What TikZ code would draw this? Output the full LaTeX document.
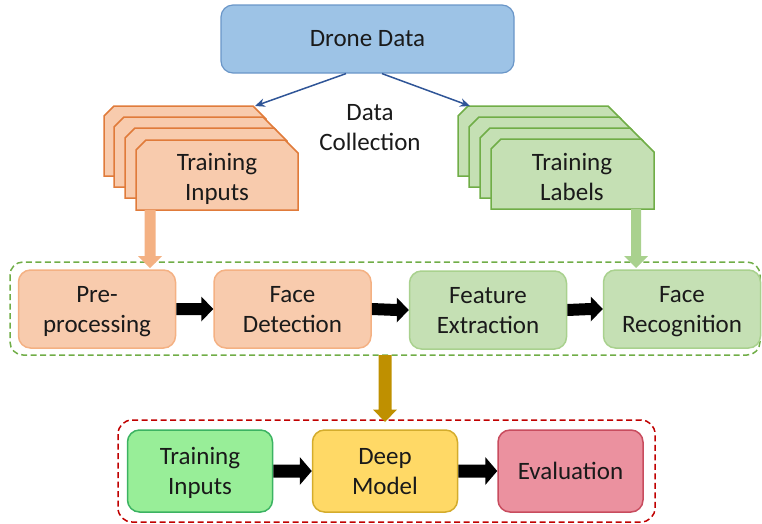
\documentclass[tikz,border=0pt]{standalone}
\usepackage{fontspec}
\setmainfont{Carlito}
\usetikzlibrary{calc,arrows.meta}
\definecolor{txt}{HTML}{1A1A1A}
\definecolor{orfill}{HTML}{F8CBAD}
\definecolor{ordark}{HTML}{E07B3A}
\definecolor{orlight}{HTML}{F4B183}
\definecolor{grfill}{HTML}{C5E0B4}
\definecolor{grdark}{HTML}{70AD47}
\definecolor{grlight}{HTML}{A9D18E}
\definecolor{blfill}{HTML}{9DC3E6}
\definecolor{blborder}{HTML}{6A96C8}
\definecolor{blarrow}{HTML}{2F5597}
\definecolor{gold}{HTML}{BF9000}
\definecolor{redline}{HTML}{C00000}
\definecolor{tifill}{HTML}{98EE98}
\definecolor{tiborder}{HTML}{3CB362}
\definecolor{dmfill}{HTML}{FFD966}
\definecolor{dmborder}{HTML}{D4AC2C}
\definecolor{evfill}{HTML}{EB919F}
\definecolor{evborder}{HTML}{C84C5E}
\newcommand\mycard[4]{%
  \draw[#4] (#1,#2+10) -- (#1+10,#2) -- (#1+#3-13,#2) -- (#1+#3,#2+13) -- (#1+#3,#2+70) -- (#1,#2+70) -- cycle;}
\newcommand\harrow[6]{%
  \fill[#3] ($(#1)+(0,-#4)$) -- ($(#2)+(-#6,-#4)$) -- ($(#2)+(-#6,-#5)$) -- (#2) -- ($(#2)+(-#6,#5)$) -- ($(#2)+(-#6,#4)$) -- ($(#1)+(0,#4)$) -- cycle;}
\newcommand\varrow[6]{%
  \fill[#3] ($(#1)+(-#4,0)$) -- ($(#2)+(-#4,-#6)$) -- ($(#2)+(-#5,-#6)$) -- (#2) -- ($(#2)+(#5,-#6)$) -- ($(#2)+(#4,-#6)$) -- ($(#1)+(#4,0)$) -- cycle;}
\newcommand\mystrut{\rule[-7pt]{0pt}{30pt}}
\newcommand\tl[2]{\mystrut #1\\\mystrut #2}
\begin{document}
\begin{tikzpicture}[x=1pt,y=-1pt,
  every node/.style={font=\fontsize{25}{30}\selectfont, text=txt, align=center},
  box/.style={rectangle, rounded corners=12pt, line width=1.5pt, inner sep=0pt},
  orcard/.style={fill=orfill, draw=ordark, line width=1.5pt, line join=miter},
  grcard/.style={fill=grfill, draw=grdark, line width=1.5pt, line join=miter},
  orbox/.style={box, fill=orfill, draw=orlight, minimum width=157pt, minimum height=78pt},
  grbox/.style={box, fill=grfill, draw=grlight, minimum width=157pt, minimum height=78pt},
  lowbox/.style={box, minimum width=145pt, minimum height=82pt},
  bluearrow/.style={draw=blarrow, line width=1.5pt, -{Stealth[length=10pt,width=8.5pt]}},
]
\useasboundingbox (0,0) rectangle (762,523);

% top box
\node[box, fill=blfill, draw=blborder, line width=1.2pt, minimum width=293pt, minimum height=68pt] (drone) at (367.5,39) {Drone Data};

% card stacks
\mycard{104}{106}{162}{orcard}
\mycard{114}{117}{162}{orcard}
\mycard{125}{128}{162}{orcard}
\mycard{136}{140}{162}{orcard}
\node (tin) at (217,177) {\tl{Training}{Inputs}};

\mycard{458}{106}{163}{grcard}
\mycard{469}{117}{163}{grcard}
\mycard{480}{128}{163}{grcard}
\mycard{491}{139}{163}{grcard}
\node (tlab) at (572,177) {\tl{Training}{Labels}};

\coordinate (ocorner) at (255,106);
\coordinate (gcorner) at (470,106);
\draw[bluearrow] ([xshift=-21.5pt]drone.south) -- (ocorner);
\draw[bluearrow] ([xshift=14.5pt]drone.south) -- (gcorner);
\node (dc) at (370,127) {\tl{Data}{Collection}};

% middle row
\draw[grdark, line width=1.5pt, dash pattern=on 6pt off 3.5pt, rounded corners=13pt] (10,262) rectangle (760,355);
\node[orbox] (pre) at (97,309) {\tl{Pre-}{processing}};
\node[orbox] (det) at (292.5,309) {\tl{Face}{Detection}};
\node[grbox] (fex) at (488,310) {\tl{Feature}{Extraction}};
\node[grbox] (rec) at (682,309) {\tl{Face}{Recognition}};
\harrow{pre.east}{det.west}{black}{6}{12.5}{12}
\harrow{det.east}{fex.west}{black}{6}{12.5}{12}
\harrow{fex.east}{rec.west}{black}{6}{12.5}{12}

\coordinate (oa1) at (150,210);
\coordinate (oa2) at (150,268);
\coordinate (ga1) at (636,209);
\coordinate (ga2) at (636,268);
\varrow{oa1}{oa2}{orlight}{5.5}{12}{12}
\varrow{ga1}{ga2}{grlight}{5}{12}{12}

% bottom row
\draw[redline, line width=1.5pt, dash pattern=on 6pt off 3.5pt, rounded corners=14pt] (118,420) rectangle (655,522);
\node[lowbox, fill=tifill, draw=tiborder] (tr) at (200,471) {\tl{Training}{Inputs}};
\node[lowbox, fill=dmfill, draw=dmborder] (dm) at (385,471) {\tl{Deep}{Model}};
\node[lowbox, fill=evfill, draw=evborder] (ev) at (570.5,471) {Evaluation};
\harrow{tr.east}{dm.west}{black}{6.5}{14}{12}
\harrow{dm.east}{ev.west}{black}{6.5}{14}{12}

\coordinate (gd1) at (385,355);
\coordinate (gd2) at (385,422);
\varrow{gd1}{gd2}{gold}{6.5}{12}{12.5}
\end{tikzpicture}
\end{document}
